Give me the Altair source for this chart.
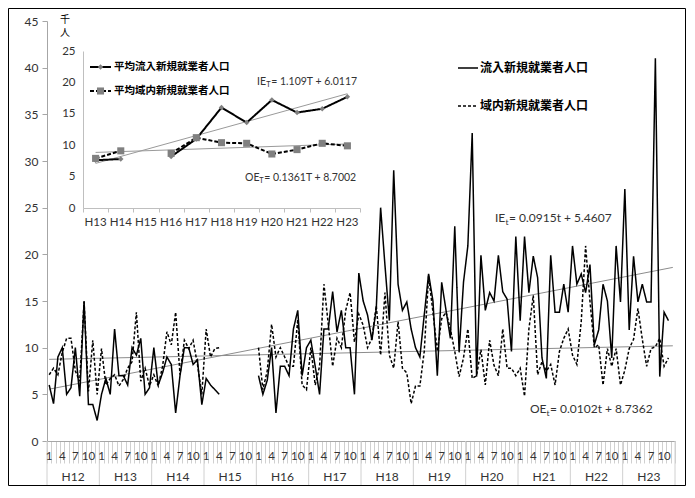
import altair as alt
import pandas as pd

# ---------------- data ----------------
year_labels = ["H12", "H13", "H14", "H15", "H16", "H17", "H18", "H19", "H20", "H21", "H22", "H23"]
month_tick_labels = [1, 4, 7, 10]
series_names = ["流入新規就業者人口", "域内新規就業者人口"]
inset_series_names = ["平均流入新規就業者人口", "平均域内新規就業者人口"]
unit_label = "千\n人"

N = None
inflow = [
    6, 4, 9, 10, 5, 5.7, 10, 4.8, 15, 3.9, 3.9, 2.2,            # H12
    5, 6.7, 5, 12, 7, 7, 6, 10, 9.2, 11, 5, 5.7,                # H13
    10, 6, 7.3, 9, 8.2, 3, 7, 10, 10, 8.2, 8.7, 3.9,            # H14
    6.7, 6, 5.5, 5, N, N, N, N, N, N, N, N,                     # H15
    7, 5, 6.5, 10, 3, 8, 8, 7, 12, 14, 7, 10,                   # H16
    10.8, 8, 5, 12, 12, 16, 11.7, 14, 10, 10, 5, 18,            # H17
    15, 13.5, 10.8, 14.2, 25, 18.8, 12.9, 29, 16.8, 14, 14.9, 12,  # H18
    10, 9, 13.5, 17.9, 15, 7, 17, 14, 11, 23, 9.5, 17,          # H19
    20.9, 33, 6.9, 19.9, 14, 15.9, 15, 19.9, 16, 15.2, 9.6, 21.9,  # H20
    12.9, 21.9, 15.9, 19.8, 17.5, 8.9, 6.7, 19.9, 13.8, 13.8, 16.8, 13.8,  # H21
    20.9, 16.8, 17.9, 15.9, 18.9, 10.3, 11.9, 16.8, 15, 8.9, 20.9, 14.9,  # H22
    27, 11.9, 19.8, 14.9, 16.8, 14.9, 14.9, 41, 6.9, 13.8, 12.9, N,       # H23
]
domestic = [
    7.1, 7.8, 7.1, 9.5, 11, 11, 7.5, 6.4, 14.9, 5.3, 10.8, 5,   # H12
    9.9, 6, 6.7, 7.1, 5.9, 6.6, 7.8, 8.5, 13.8, 6.4, 7.8, 5.9,  # H13
    7.1, 5.9, 8, 11.7, 10.3, 13.8, 7.1, 10.8, 9.9, 10.8, 8.2, 5,  # H14
    12, 9, 9.9, 10, N, N, N, N, N, N, N, N,                     # H15
    10, 5.5, 7.5, 12.5, 9, 10, 9, 8, 8, 13, 6, 5.5,             # H16
    10, 6, 8, 16.8, 12.5, 8, 11, 10, 14, 15.9, 10.6, 13.6,      # H17
    12.4, 10, 11, 14.5, 9.2, 15.9, 9.2, 7.8, 12.8, 7.8, 7.3, 4,  # H18
    5.9, 5.9, 9.6, 17.7, 13.8, 9.6, 13.1, 13.8, 12, 9.6, 6.9, 8.9,  # H19
    12, 6.7, 7, 9.8, 6, 10.8, 8.1, 7, 12, 7.8, 7.8, 7,          # H20
    7.8, 4.8, 12, 15.6, 7.1, 8.5, 7.5, 8.2, 6, 9.6, 11, 12,     # H21
    9.2, 8.2, 12.8, 20.9, 15, 10, 10.3, 6, 9.9, 8, 9.9, 6,      # H22
    7.6, 9.9, 10.9, 14.2, 10.9, 8, 9.9, 10.1, 11, 8, 8.9, N,    # H23
]
trend_inflow = [5.55, 18.6]      # at first / last month
trend_domestic = [8.75, 10.2]

inset_years = ["H13", "H14", "H15", "H16", "H17", "H18", "H19", "H20", "H21", "H22", "H23"]
inset_inflow = [7.6, 7.8, N, 8.2, 11.0, 16.0, 13.6, 17.2, 15.2, 15.8, 17.7]
inset_domestic = [7.9, 9.1, N, 8.7, 11.2, 10.4, 10.3, 8.6, 9.3, 10.3, 9.9]
inset_trend_inflow = [7.1, 18.2]
inset_trend_domestic = [8.85, 10.2]

# ---------------- tables ----------------
rows = []
for i, (a, b) in enumerate(zip(inflow, domestic)):
    t = i + 1
    seg = 0 if t <= 40 else 1
    if a is not None:
        rows.append({"t": t, "v": a, "series": series_names[0], "seg": seg})
    if b is not None:
        rows.append({"t": t, "v": b, "series": series_names[1], "seg": seg})
main_df = pd.DataFrame(rows)

n_months = len(inflow)
trend_df = pd.DataFrame({
    "t": [1, n_months, 1, n_months],
    "v": trend_inflow + trend_domestic,
    "name": ["ie", "ie", "oe", "oe"],
})
mlab = []
for k, _ in enumerate(year_labels):
    for m in month_tick_labels:
        mlab.append({"t": 12 * k + m, "label": str(m)})
month_df = pd.DataFrame(mlab)
year_df = pd.DataFrame({"t": [12 * k + 6.5 for k in range(len(year_labels))], "label": year_labels})
sep_df = pd.DataFrame({"t": [12 * k + 0.5 for k in range(len(year_labels) + 1)]})

irows = []
for i, (a, b) in enumerate(zip(inset_inflow, inset_domestic)):
    T = i + 1
    seg = 0 if T <= 2 else 1
    if a is not None:
        irows.append({"T": T, "v": a, "iseries": "ie", "seg": seg})
    if b is not None:
        irows.append({"T": T, "v": b, "iseries": "oe", "seg": seg})
inset_df = pd.DataFrame(irows)
nT = len(inset_years)
inset_trend_df = pd.DataFrame({
    "T": [1, nT, 1, nT],
    "v": inset_trend_inflow + inset_trend_domestic,
    "name": ["ie", "ie", "oe", "oe"],
})
inset_lab_df = pd.DataFrame({"T": list(range(1, nT + 1)), "label": inset_years})

one = pd.DataFrame({"k": [0]})

# ---------------- layout constants ----------------
W, H = 628, 420
TXT = "#333333"
NUMFONT = "Lato"
CJK = "Noto Sans CJK JP"


def xs():
    return alt.Scale(domain=[0.5, n_months + 0.5], nice=False, zero=False)


def ys():
    return alt.Scale(domain=[0, 45], nice=False, zero=True)


# ---------------- main chart ----------------
lines = alt.Chart(main_df).mark_line(color="black", strokeWidth=1.5).encode(
    x=alt.X("t:Q", scale=xs(), title=None,
            axis=alt.Axis(values=[k + 0.5 for k in range(n_months + 1)], labels=False, orient="bottom",
                          tickSize=22, tickColor="#d0d0d0", domainColor="#a6a6a6",
                          grid=False, title=None)),
    y=alt.Y("v:Q", scale=ys(), title=None,
            axis=alt.Axis(values=list(range(0, 46, 5)), tickSize=5, labelPadding=4, orient="left",
                          tickColor="#a6a6a6", domainColor="#a6a6a6", grid=False,
                          labelFont=NUMFONT, labelFontSize=12, labelColor=TXT, title=None)),
    strokeDash=alt.StrokeDash(
        "series:N",
        scale=alt.Scale(domain=series_names, range=[[1, 0], [3, 2]]),
        legend=alt.Legend(title=None, orient="none", legendX=410, legendY=36,
                          symbolType="stroke", symbolSize=400, symbolStrokeWidth=1.6,
                          symbolStrokeColor="black", labelFont=CJK, labelFontSize=12,
                          labelFontWeight="bold", labelColor="black", rowPadding=21,
                          labelOffset=1, padding=0),
    ),
    detail="seg:N",
)

trend = alt.Chart(trend_df).mark_line(color="#8c8c8c", strokeWidth=1).encode(
    x=alt.X("t:Q", scale=xs(), axis=None),
    y=alt.Y("v:Q", scale=ys(), axis=None),
    detail="name:N",
)

month_text = alt.Chart(month_df).mark_text(font=NUMFONT, fontSize=11.5, color=TXT, baseline="middle").encode(
    x=alt.X("t:Q", scale=xs(), axis=None), y=alt.value(436), text="label:N")
year_text = alt.Chart(year_df).mark_text(font=NUMFONT, fontSize=12, color=TXT, baseline="middle").encode(
    x=alt.X("t:Q", scale=xs(), axis=None), y=alt.value(456), text="label:N")
seps = alt.Chart(sep_df).mark_rule(color="#d0d0d0", strokeWidth=1).encode(
    x=alt.X("t:Q", scale=xs(), axis=None), y=alt.value(H), y2=alt.value(466))


def txt(x, y, s, size, font=NUMFONT, weight="normal", color=TXT, align="left"):
    return alt.Chart(one).mark_text(align=align, baseline="middle", font=font, fontSize=size,
                                    fontWeight=weight, color=color).encode(
        x=alt.value(x), y=alt.value(y), text=alt.value(s))


def equation(x, y, head, sub, tail, size, head_w, sub_w):
    return [
        txt(x, y, head, size),
        txt(x + head_w, y + size * 0.3, sub, size * 0.7),
        txt(x + head_w + sub_w, y, tail, size),
    ]


annots = []
annots += equation(448, 197, "IE", "t", " = 0.0915t + 5.4607", 12, 10.5, 3.5)
annots += equation(483, 388, "OE", "t", " = 0.0102t + 8.7362", 12, 16.5, 3.5)
annots += [alt.Chart(one).mark_text(align="center", baseline="top", font=CJK, fontSize=10, color="black",
                                    lineBreak="\n", lineHeight=12.5).encode(
    x=alt.value(18), y=alt.value(-6), text=alt.value(unit_label))]

border = alt.Chart(one).mark_rect(filled=False, stroke="black", strokeWidth=1).encode(
    x=alt.value(-38.5), x2=alt.value(638.5), y=alt.value(-12.5), y2=alt.value(464.5))

# ---------------- inset chart ----------------
IX0, IX1, IY0, IY1 = 36, 313, 187, 30


def ixs():
    return alt.Scale(domain=[0.5, nT + 0.5], range=[IX0, IX1], nice=False, zero=False)


def iys():
    return alt.Scale(domain=[0, 25], range=[IY0, IY1], nice=False, zero=True)


ilines = alt.Chart(inset_df).mark_line(color="black", strokeWidth=2).encode(
    x=alt.X("T:Q", scale=ixs(), title=None,
            axis=alt.Axis(orient="bottom", offset=-(H - IY0), values=[k + 0.5 for k in range(nT + 1)],
                          labels=False, tickSize=4, tickColor="#bfbfbf", domainColor="#bfbfbf",
                          grid=False, title=None)),
    y=alt.Y("v:Q", scale=iys(), title=None,
            axis=alt.Axis(orient="left", offset=-IX0, values=list(range(0, 26, 5)), ticks=False,
                          labelPadding=8, domainColor="#bfbfbf", grid=False, labelFont=NUMFONT,
                          labelFontSize=11.5, labelColor=TXT, title=None)),
    strokeDash=alt.StrokeDash("iseries:N", scale=alt.Scale(domain=["ie", "oe"], range=[[1, 0], [4, 2]]),
                              legend=None),
    detail="seg:N",
)
ipoints = alt.Chart(inset_df).mark_point(filled=True, color="#808080", opacity=1).encode(
    x=alt.X("T:Q", scale=ixs(), axis=None),
    y=alt.Y("v:Q", scale=iys(), axis=None),
    shape=alt.Shape("iseries:N", scale=alt.Scale(domain=["ie", "oe"], range=["diamond", "square"]), legend=None),
    size=alt.Size("iseries:N", scale=alt.Scale(domain=["ie", "oe"], range=[30, 50]), legend=None),
)
itrend = alt.Chart(inset_trend_df).mark_line(color="#9a9a9a", strokeWidth=1).encode(
    x=alt.X("T:Q", scale=ixs(), axis=None),
    y=alt.Y("v:Q", scale=iys(), axis=None),
    detail="name:N",
)
ilabels = alt.Chart(inset_lab_df).mark_text(font=NUMFONT, fontSize=11.5, color=TXT, baseline="middle").encode(
    x=alt.X("T:Q", scale=ixs(), axis=None), y=alt.value(202), text="label:N")

# inset legend
ileg = [
    alt.Chart(one).mark_rule(color="black", strokeWidth=2).encode(
        x=alt.value(43), x2=alt.value(64), y=alt.value(46)),
    alt.Chart(one).mark_point(shape="diamond", filled=True, color="#808080", size=30, opacity=1).encode(
        x=alt.value(53.5), y=alt.value(46)),
    txt(67, 46, inset_series_names[0], 10.5, font=CJK, weight="bold", color="black"),
    alt.Chart(one).mark_rule(color="black", strokeWidth=2, strokeDash=[4, 2]).encode(
        x=alt.value(43), x2=alt.value(64), y=alt.value(70)),
    alt.Chart(one).mark_point(shape="square", filled=True, color="#808080", size=50, opacity=1).encode(
        x=alt.value(53.5), y=alt.value(70)),
    txt(67, 70, inset_series_names[1], 10.5, font=CJK, weight="bold", color="black"),
]
ieq = []
ieq += equation(210, 61, "IE", "T", " = 1.109T + 6.0117", 10.5, 9.2, 5.0)
ieq += equation(198, 157, "OE", "T", " = 0.1361T + 8.7002", 10.5, 14.2, 5.0)

chart = alt.layer(
    seps, trend, lines, month_text, year_text,
    itrend, ilines, ipoints, ilabels,
    border, *annots, *ileg, *ieq,
).resolve_scale(
    x="independent", y="independent", strokeDash="independent", shape="independent", size="independent"
).properties(
    width=W, height=H,
    padding={"left": 39, "top": 13, "right": 11, "bottom": 45},
    autosize=alt.AutoSizeParams(type="none"),
).configure_view(stroke=None)

chart.save("out.html", embed_options={"renderer": "svg", "actions": False})
